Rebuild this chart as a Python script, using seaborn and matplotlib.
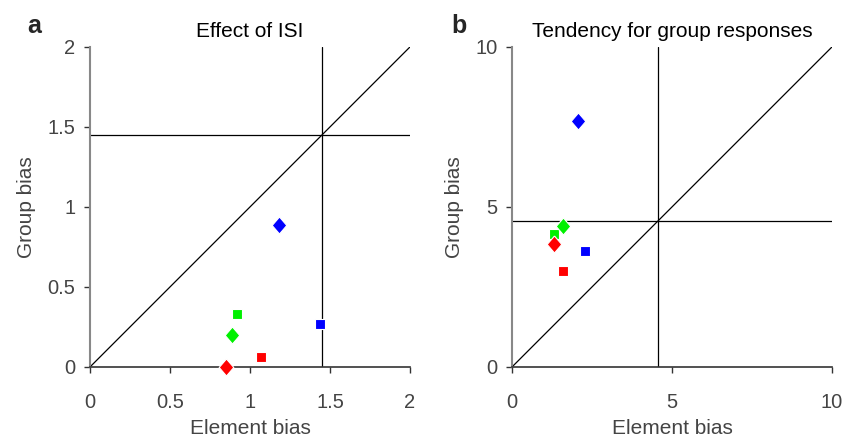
import matplotlib
matplotlib.use("Agg")
import matplotlib.pyplot as plt
import seaborn as sns
import pandas as pd

sns.set_theme(style="white")
plt.rcParams['font.family'] = ['Liberation Sans', 'DejaVu Sans']

# Panel a data
a_color = ["blue", "blue", "green", "green", "red", "red"]
a_shape = ["diamond", "square", "square", "diamond", "square", "diamond"]
a_x = [1.18, 1.44, 0.92, 0.89, 1.07, 0.85]
a_y = [0.89, 0.27, 0.33, 0.20, 0.06, 0.0]
a_ref = 1.45
a_ticks = [0, 0.5, 1, 1.5, 2]
a_ticklabels = ["0", "0.5", "1", "1.5", "2"]

# Panel b data
b_color = ["blue", "green", "blue", "red", "green", "red"]
b_shape = ["diamond", "square", "square", "square", "diamond", "diamond"]
b_x = [2.05, 1.32, 2.29, 1.60, 1.60, 1.32]
b_y = [7.69, 4.15, 3.62, 3.01, 4.40, 3.84]
b_ref = 4.57
b_ticks = [0, 5, 10]
b_ticklabels = ["0", "5", "10"]

palette = {"blue": "#0000FF", "green": "#00F000", "red": "#FF0000"}
diamond = [(0, 7), (6, 0), (0, -7), (-6, 0), (0, 7)]
markers = {"diamond": diamond, "square": "s"}
sizes = {"diamond": 150, "square": 50}

fig = plt.figure(figsize=(8.44, 4.42), dpi=100)
ax_a = fig.add_axes([0.1066, 0.1697, 0.3791, 0.7240])
ax_b = fig.add_axes([0.6066, 0.1697, 0.3791, 0.7240])

panels = [
    (ax_a, a_color, a_shape, a_x, a_y, a_ref, 2, a_ticks, a_ticklabels, "Effect of ISI", "a", -0.197),
    (ax_b, b_color, b_shape, b_x, b_y, b_ref, 10, b_ticks, b_ticklabels, "Tendency for group responses", "b", -0.19),
]

for ax, col, shp, xs, ys, ref, lim, ticks, tlabels, title, letter, lx in panels:
    ax.plot([0, lim], [0, lim], color="black", lw=0.9, zorder=1)
    ax.axhline(ref, color="black", lw=0.9, zorder=1)
    ax.axvline(ref, color="black", lw=0.9, zorder=1)
    df = pd.DataFrame({"x": xs, "y": ys, "c": col, "m": shp})
    for (c, m), sub in df.groupby(["c", "m"], sort=False):
        sns.scatterplot(data=sub, x="x", y="y", ax=ax, color=palette[c],
                        marker=markers[m], s=sizes[m],
                        edgecolor="white", linewidth=0.8, legend=False, zorder=3,
                        clip_on=False)
    ax.set_xlim(0, lim)
    ax.set_ylim(0, lim)
    ax.set_xticks(ticks)
    ax.set_xticklabels(tlabels)
    ax.set_yticks(ticks)
    ax.set_yticklabels(tlabels)
    ax.set_xlabel("Element bias", fontsize=15, color="#444444", labelpad=5)
    ax.set_ylabel("Group bias", fontsize=15, color="#444444", labelpad=8)
    ax.set_title(title, fontsize=15, color="black", pad=7)
    for s in ["top", "right"]:
        ax.spines[s].set_visible(False)
    ax.spines["left"].set_color("#888888")
    ax.spines["left"].set_linewidth(1.5)
    ax.spines["bottom"].set_color("#333333")
    ax.spines["bottom"].set_linewidth(1.2)
    ax.tick_params(axis="both", bottom=True, left=True, direction="out",
                   length=4.5, width=1, labelsize=14.5, labelcolor="#444444",
                   color="#333333")
    ax.tick_params(axis="x", pad=14)
    ax.tick_params(axis="y", pad=6)
    ax.set_facecolor("white")
    ax.text(lx, 1.044, letter, transform=ax.transAxes, fontsize=18,
            fontweight="bold", ha="left", va="baseline")

fig.savefig("out.png", dpi=100, facecolor="white")
